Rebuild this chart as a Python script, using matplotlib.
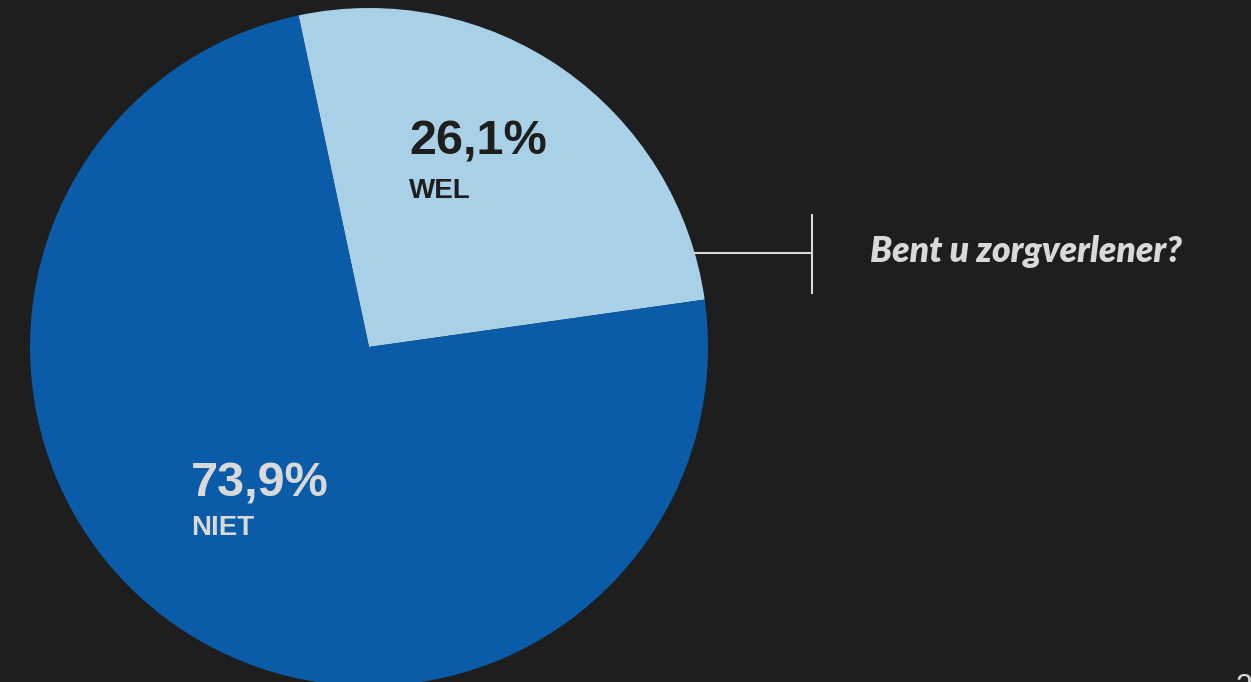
import matplotlib
matplotlib.use("Agg")
import matplotlib.pyplot as plt

# Antwoorden op "Bent u zorgverlener?"
labels = ["WEL", "NIET"]
shares = [26.1, 73.9]
pct_text = ["26,1%", "73,9%"]
question = "Bent u zorgverlener?"
page_no = "3"

BG = "#1e1e1e"
LIGHT = "#a8d1e7"
DARK = "#0a5ca8"
GREY = "#d9d9d9"

W, H = 1251, 682
fig = plt.figure(figsize=(W / 100, H / 100), dpi=100, facecolor=BG)
ax = fig.add_axes([0, 0, 1, 1])
ax.set_facecolor(BG)

# pixel-achtige coordinaten: y van boven naar beneden omgerekend
def py(y):
    return H - y

cx, cy, r = 369, py(347), 339
ax.pie(shares, colors=[LIGHT, DARK], startangle=102, counterclock=False,
       center=(cx, cy), radius=r, wedgeprops=dict(linewidth=0))
ax.set_xlim(0, W)
ax.set_ylim(0, H)
ax.set_aspect("equal")
ax.axis("off")

# percentages en labels in de taartpunten
txt_pos = [(409, 155, 198, "#1e1e1e"), (191, 496, 535, GREY)]
for (x, yb1, yb2, col), p, lab in zip(txt_pos, pct_text, labels):
    ax.text(x, py(yb1), p, fontsize=35, fontweight="bold", color=col,
            family="Liberation Sans", va="baseline", ha="left")
    ax.text(x, py(yb2), lab, fontsize=20, fontweight="heavy", color=col,
            family="Liberation Sans", va="baseline", ha="left")

# aanwijslijn naar de vraag
ly = py(253)
ax.plot([694, 812], [ly, ly], color=GREY, lw=1.5, solid_capstyle="butt")
ax.plot([812, 812], [py(214), py(294)], color=GREY, lw=1.5, solid_capstyle="butt")
ax.text(870, py(262), question, fontsize=25.5, fontweight="heavy", style="italic",
        color=GREY, family=["Lato", "DejaVu Sans"], va="baseline", ha="left")

# paginanummer rechtsonder (valt half buiten beeld)
ax.text(1236, py(673), page_no, fontsize=22, color=GREY,
        family="Liberation Sans", va="top", ha="left")

fig.savefig("out.png", dpi=100, facecolor=BG)
